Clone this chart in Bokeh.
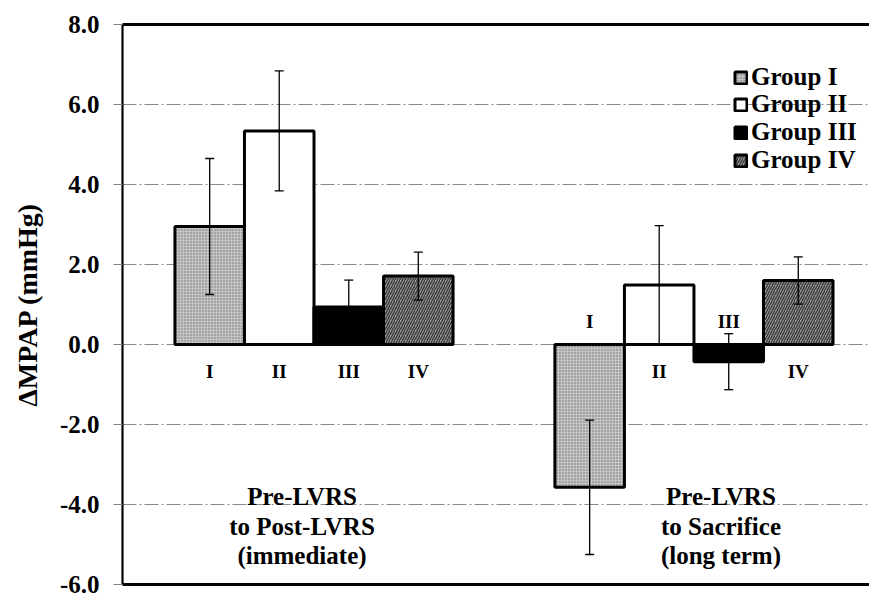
from bokeh.plotting import figure
from bokeh.models import (ColumnDataSource, Range1d, FixedTicker, PrintfTickFormatter,
                          Whisker, TeeHead, Legend, LegendItem, LinearAxis)
from bokeh.core.properties import value
from bokeh.embed import file_html
from bokeh.resources import INLINE

# ---- data ----
periods = ["Pre-LVRS\nto Post-LVRS\n(immediate)", "Pre-LVRS\nto Sacrifice\n(long term)"]
groups = ["Group I", "Group II", "Group III", "Group IV"]
roman = ["I", "II", "III", "IV"]
immediate = [2.95, 5.34, 0.94, 1.71]
immediate_sem = [1.70, 1.50, 0.67, 0.60]
long_term = [-3.57, 1.49, -0.43, 1.60]
long_term_sem = [1.68, 1.48, 0.70, 0.59]
y_ticks = [-6, -4, -2, 0, 2, 4, 6, 8]

# ---- styles ----
FONT = "Liberation Serif"
fills = ["#c4c4c4", "#ffffff", "#000000", "#a4a4a4"]
hatches = [".", None, None, "/"]
hatch_colors = ["#6e6e6e", None, None, "#3c3c3c"]
hatch_scales = [3.0, 12, 12, 5.0]
hatch_weights = [1.2, 1, 1, 1.5]
bar_w = 0.183
period_x = [0.5, 1.5]
label_shift_px = [-12, 27]
legend_y = [493, 466, 438, 410]

p = figure(width=869, height=599, output_backend="svg", toolbar_location=None,
           x_range=Range1d(-0.004, 1.962), y_range=Range1d(-6, 8),
           min_border_left=122, min_border_right=0, min_border_top=24, min_border_bottom=15)
p.outline_line_color = None
p.background_fill_color = "white"
p.border_fill_color = "white"

# y axis
p.yaxis.ticker = FixedTicker(ticks=y_ticks)
p.yaxis.formatter = PrintfTickFormatter(format="%.1f")
p.yaxis.major_label_text_font = FONT
p.yaxis.major_label_text_font_style = "bold"
p.yaxis.major_label_text_font_size = "25px"
p.yaxis.major_label_text_color = "black"
p.yaxis.major_label_standoff = 14
p.yaxis.major_tick_out = 9
p.yaxis.major_tick_in = 0
p.yaxis.minor_tick_out = 0
p.yaxis.minor_tick_in = 0
p.yaxis.major_tick_line_color = "#808080"
p.yaxis.axis_line_width = 2.2
p.yaxis.axis_line_color = "black"
p.yaxis.axis_label = "\u0394MPAP (mmHg)"
p.yaxis.axis_label_text_font = FONT
p.yaxis.axis_label_text_font_style = "bold"
p.yaxis.axis_label_text_font_size = "28px"
p.yaxis.axis_label_text_color = "black"
p.yaxis.axis_label_standoff = 14

# bottom axis: only the line
p.xaxis.ticker = FixedTicker(ticks=[])
p.xaxis.major_tick_out = 0
p.xaxis.minor_tick_out = 0
p.xaxis.major_label_text_font_size = "0px"
p.xaxis.axis_line_width = 3
p.xaxis.axis_line_color = "black"

# top line
top_axis = LinearAxis(ticker=FixedTicker(ticks=[]), major_tick_out=0, minor_tick_out=0,
                      major_label_text_font_size="0px", axis_line_width=3, axis_line_color="black")
p.add_layout(top_axis, "above")

# grid
p.xgrid.grid_line_color = None
p.ygrid.ticker = FixedTicker(ticks=y_ticks)
p.ygrid.grid_line_color = "#8a8a8a"
p.ygrid.grid_line_width = 1
p.ygrid.grid_line_dash = "14 3 2 3"

for i, g in enumerate(groups):
    off = (i - 1.5) * bar_w
    xs = [period_x[0] + off, period_x[1] + off]
    vals = [immediate[i], long_term[i]]
    sems = [immediate_sem[i], long_term_sem[i]]
    src = ColumnDataSource(dict(x=xs, top=vals,
                                upper=[v + s for v, s in zip(vals, sems)],
                                lower=[v - s for v, s in zip(vals, sems)]))
    kw = {}
    if hatches[i]:
        kw = dict(hatch_pattern=hatches[i], hatch_color=hatch_colors[i],
                  hatch_scale=hatch_scales[i], hatch_weight=hatch_weights[i])
    r = p.vbar(x="x", top="top", bottom=0, width=bar_w, source=src,
               fill_color=fills[i], line_color="black", line_width=3, **kw)
    leg = Legend(items=[LegendItem(label=g, renderers=[r])], location=(611, legend_y[i]),
                 label_text_font=FONT, label_text_font_style="bold",
                 label_text_font_size="25px", label_text_color="black",
                 glyph_width=15, glyph_height=15, label_standoff=3,
                 spacing=0, padding=2, margin=0, label_height=24,
                 border_line_color=None, background_fill_alpha=0)
    p.add_layout(leg, "center")
    w = Whisker(base="x", upper="upper", lower="lower", source=src, level="overlay",
                line_color="black", line_width=1.3,
                upper_head=TeeHead(size=9, line_color="black", line_width=1.3),
                lower_head=TeeHead(size=9, line_color="black", line_width=1.3))
    p.add_layout(w)
    # roman labels: below zero for positive bars, above zero for negative bars
    p.text(x=xs, y=[0, 0], text=[roman[i], roman[i]],
           y_offset=[27 if v >= 0 else -23 for v in vals],
           text_align="center", text_baseline="middle",
           text_font=value(FONT), text_font_style="bold", text_font_size="19px",
           text_color="black")

# period labels
p.text(x=period_x, y=[-4.54, -4.54], text=periods, x_offset=label_shift_px,
       text_align="center", text_baseline="middle", text_line_height=1.1,
       text_font=value(FONT), text_font_style="bold", text_font_size="25px",
       text_color="black")

open("out.html", "w").write(file_html(p, INLINE))
